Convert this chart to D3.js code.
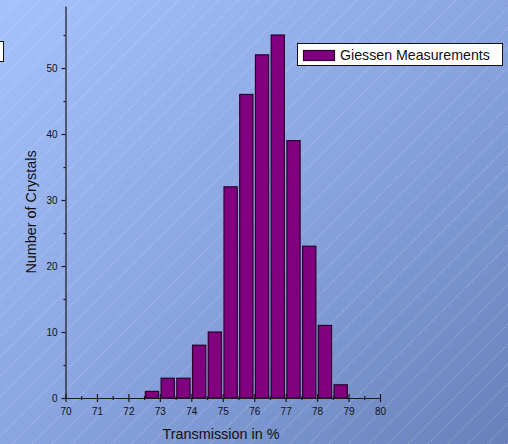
<!DOCTYPE html>
<html>
<head>
<meta charset="utf-8">
<script src="https://cdn.jsdelivr.net/npm/d3@7"></script>
<style>
  html, body { margin: 0; padding: 0; background: #fff; }
  svg { display: block; }
  text { font-family: "Liberation Sans", Arial, sans-serif; }
</style>
</head>
<body>
<script>
// Histogram bins (lower edge of each 0.5 % wide bin) and crystal counts
const binStarts = [72.5, 73.0, 73.5, 74.0, 74.5, 75.0, 75.5, 76.0, 76.5, 77.0, 77.5, 78.0, 78.5];
const counts    = [1, 3, 3, 8, 10, 32, 46, 52, 55, 39, 23, 11, 2];
const binWidth = 0.5;
const xMajorTicks = [70, 71, 72, 73, 74, 75, 76, 77, 78, 79, 80];
const xMinorTicks = [70.5, 71.5, 72.5, 73.5, 74.5, 75.5, 76.5, 77.5, 78.5, 79.5];
const yMajorTicks = [0, 10, 20, 30, 40, 50];
const yMinorTicks = [5, 15, 25, 35, 45, 55];
const seriesName = "Giessen Measurements";
const xTitle = "Transmission in %";
const yTitle = "Number of Crystals";

const W = 508, H = 444;
const svg = d3.select("body").append("svg").attr("width", W).attr("height", H);
const defs = svg.append("defs");

// Background: diagonal blue gradient with fine white hatch lines
const grad = defs.append("linearGradient").attr("id", "bg")
  .attr("x1", "0").attr("y1", "0").attr("x2", "1").attr("y2", "1");
grad.append("stop").attr("offset", "0").attr("stop-color", "#a6c2fc");
grad.append("stop").attr("offset", "0.5").attr("stop-color", "#8aa5e0");
grad.append("stop").attr("offset", "1").attr("stop-color", "#6881ba");

const hatch = defs.append("pattern").attr("id", "hatch")
  .attr("patternUnits", "userSpaceOnUse")
  .attr("width", 14).attr("height", 14)
  .attr("patternTransform", "rotate(45)");
hatch.append("line").attr("x1", 0).attr("y1", 0).attr("x2", 0).attr("y2", 14)
  .attr("stroke", "#ffffff").attr("stroke-opacity", 0.55)
  .attr("stroke-width", 1).attr("stroke-dasharray", "1,1");

svg.append("rect").attr("width", W).attr("height", H).attr("fill", "url(#bg)");
svg.append("rect").attr("width", W).attr("height", H).attr("fill", "url(#hatch)");

// Small white frame at the left edge
svg.append("rect").attr("x", -2).attr("y", 41.5).attr("width", 5.5).attr("height", 20)
  .attr("fill", "#fff").attr("stroke", "#111").attr("stroke-width", 1);

// Scales
const x = d3.scaleLinear().domain([70, 80]).range([65.5, 380]);
const y = d3.scaleLinear().domain([0, 59.4]).range([398, 6]);
const axisColor = "#1a1a1a";
const tickFont = 10;

// Bars
const gap = (x(70 + binWidth) - x(70)) * 0.08;
svg.append("g").selectAll("rect").data(counts).join("rect")
  .attr("x", (d, i) => x(binStarts[i]) + gap)
  .attr("width", (d, i) => x(binStarts[i] + binWidth) - x(binStarts[i]) - 2 * gap)
  .attr("y", d => y(d))
  .attr("height", d => y(0) - y(d))
  .attr("fill", "#800080")
  .attr("stroke", "#2a002a")
  .attr("stroke-width", 1.2);

// X axis: ticks crossing the axis line
const gx = svg.append("g").attr("transform", `translate(0,${y(0)})`);
gx.append("g").call(d3.axisBottom(x).tickValues(xMinorTicks).tickSize(2).tickFormat(""))
  .call(g => g.select(".domain").remove())
  .call(g => g.selectAll(".tick line").attr("y1", -2).attr("stroke", axisColor).attr("stroke-width", 1.2));
gx.append("g").call(d3.axisBottom(x).tickValues(xMajorTicks).tickSize(4).tickSizeOuter(0).tickPadding(6))
  .call(g => g.select(".domain").attr("stroke", axisColor).attr("stroke-width", 1.2))
  .call(g => g.selectAll(".tick line").attr("y1", -4).attr("stroke", axisColor).attr("stroke-width", 1.2))
  .call(g => g.selectAll(".tick text").attr("font-size", tickFont).attr("fill", "#111")
    .attr("font-family", "Liberation Sans, Arial, sans-serif"));

// Y axis: ticks pointing outward
const gy = svg.append("g").attr("transform", `translate(${x(70)},0)`);
gy.append("g").call(d3.axisLeft(y).tickValues(yMinorTicks).tickSize(2).tickFormat(""))
  .call(g => g.select(".domain").remove())
  .call(g => g.selectAll(".tick line").attr("stroke", axisColor).attr("stroke-width", 1.2));
gy.append("g").call(d3.axisLeft(y).tickValues(yMajorTicks).tickSize(4).tickSizeOuter(0).tickPadding(4))
  .call(g => g.select(".domain").attr("stroke", axisColor).attr("stroke-width", 1.2))
  .call(g => g.selectAll(".tick line").attr("stroke", axisColor).attr("stroke-width", 1.2))
  .call(g => g.selectAll(".tick text").attr("font-size", tickFont).attr("fill", "#111")
    .attr("font-family", "Liberation Sans, Arial, sans-serif"));

// Axis titles
svg.append("text").attr("x", 221).attr("y", 439).attr("text-anchor", "middle")
  .attr("font-size", 14.4).attr("fill", "#111").text(xTitle);
svg.append("text").attr("transform", `translate(35.5,212) rotate(-90)`)
  .attr("text-anchor", "middle").attr("font-size", 14.4).attr("fill", "#111").text(yTitle);

// Legend
const lg = svg.append("g");
lg.append("rect").attr("x", 297.5).attr("y", 43.5).attr("width", 205).attr("height", 22)
  .attr("fill", "#fff").attr("stroke", "#111").attr("stroke-width", 1);
lg.append("rect").attr("x", 303.5).attr("y", 50.5).attr("width", 31).attr("height", 10)
  .attr("fill", "#800080").attr("stroke", "#2a002a").attr("stroke-width", 1.2);
lg.append("text").attr("x", 340).attr("y", 60).attr("font-size", 14.2).attr("fill", "#111")
  .text(seriesName);
</script>
</body>
</html>
